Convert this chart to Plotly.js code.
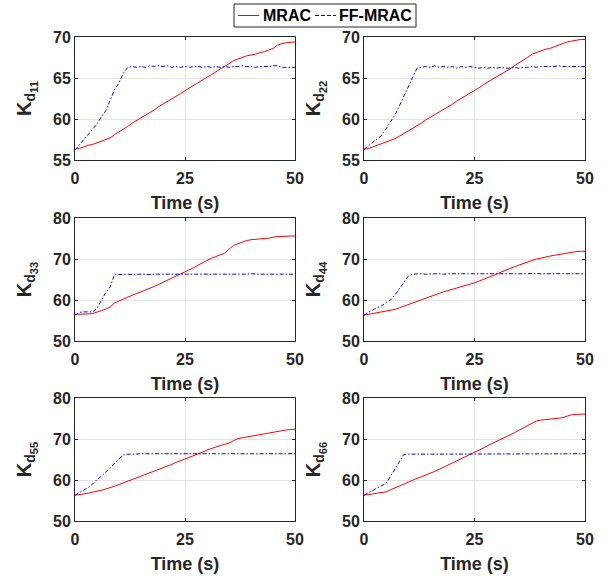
<!DOCTYPE html>
<html>
<head>
<meta charset="utf-8">
<script src="https://cdn.plot.ly/plotly-3.0.1.min.js"></script>
<style>html,body{margin:0;padding:0;background:#fff;}#chart{width:610px;height:581px;}</style>
</head>
<body>
<div id="chart"></div>
<script>
// Time samples (s)
const time = [0,1,2,3,4,5,6,7,8,9,10,11,12,13,14,15,16,17,18,19,20,21,22,23,24,25,26,27,28,29,30,31,32,33,34,35,36,37,38,39,40,41,42,43,44,45,46,47,48,49,50];

// Kd11
const mrac11 = [56.3,56.4,56.6,56.8,56.9,57.1,57.3,57.5,57.7,58.1,58.4,58.8,59.1,59.5,59.8,60.2,60.5,60.8,61.1,61.5,61.8,62.1,62.4,62.8,63.1,63.45,63.8,64.1,64.4,64.8,65.1,65.4,65.8,66.1,66.4,66.8,67.1,67.3,67.5,67.7,67.8,67.9,68.1,68.2,68.4,68.6,69.0,69.2,69.3,69.35,69.4];
const ff11   = [56.2,56.9,57.5,58.1,58.7,59.4,60.3,61.0,62.3,63.6,64.4,65.6,66.3,66.4,66.3,66.4,66.3,66.5,66.4,66.5,66.4,66.5,66.3,66.4,66.3,66.4,66.3,66.4,66.4,66.3,66.4,66.3,66.4,66.3,66.4,66.3,66.4,66.4,66.5,66.4,66.4,66.3,66.4,66.4,66.4,66.5,66.5,66.3,66.3,66.3,66.3];
// Kd22
const mrac22 = [56.3,56.4,56.6,56.8,57.0,57.2,57.4,57.6,57.9,58.2,58.5,58.9,59.2,59.5,59.9,60.2,60.5,60.9,61.2,61.5,61.8,62.2,62.5,62.8,63.2,63.5,63.8,64.2,64.5,64.8,65.2,65.5,65.8,66.1,66.5,66.8,67.1,67.5,67.9,68.1,68.3,68.5,68.6,68.8,69.0,69.2,69.4,69.5,69.6,69.7,69.7];
const ff22   = [56.3,56.7,57.2,57.6,58.0,58.8,59.7,60.5,61.6,62.8,63.9,65.0,66.2,66.3,66.4,66.3,66.5,66.3,66.4,66.3,66.4,66.2,66.4,66.3,66.4,66.3,66.2,66.3,66.2,66.3,66.2,66.3,66.2,66.2,66.3,66.2,66.3,66.3,66.4,66.3,66.4,66.4,66.4,66.4,66.5,66.4,66.4,66.4,66.4,66.4,66.4];
// Kd33
const mrac33 = [56.5,56.5,56.5,56.6,56.7,57.0,57.4,57.8,58.3,59.3,59.8,60.3,60.8,61.2,61.6,62.0,62.4,62.8,63.3,63.8,64.3,64.8,65.2,65.7,66.2,66.7,67.3,67.9,68.5,69.1,69.7,70.2,70.6,71.0,71.4,72.4,73.3,73.7,74.1,74.5,74.7,74.8,74.8,74.9,75.1,75.3,75.5,75.5,75.6,75.6,75.6];
const ff33   = [56.3,57.0,57.1,57.1,57.1,58.0,59.8,61.8,63.2,66.3,66.2,66.3,66.3,66.2,66.3,66.3,66.3,66.2,66.3,66.3,66.3,66.3,66.2,66.3,66.3,66.3,66.3,66.3,66.2,66.3,66.3,66.3,66.3,66.3,66.2,66.3,66.3,66.3,66.3,66.3,66.4,66.3,66.3,66.3,66.3,66.3,66.3,66.3,66.3,66.3,66.3];
// Kd44
const mrac44 = [56.3,56.5,56.7,56.9,57.1,57.3,57.5,57.7,58.1,58.5,58.9,59.3,59.7,60.1,60.5,60.8,61.2,61.6,62.0,62.3,62.6,63.0,63.3,63.6,63.9,64.2,64.6,65.0,65.5,65.9,66.3,66.8,67.3,67.7,68.1,68.5,68.9,69.3,69.7,70.0,70.2,70.5,70.7,70.9,71.1,71.3,71.5,71.7,71.8,71.9,71.9];
const ff44   = [56.3,57.0,57.6,58.1,58.6,59.4,60.0,61.2,62.8,64.4,65.8,66.3,66.4,66.4,66.3,66.4,66.4,66.4,66.3,66.4,66.4,66.4,66.3,66.4,66.4,66.4,66.3,66.4,66.4,66.3,66.4,66.4,66.4,66.4,66.4,66.4,66.4,66.4,66.5,66.4,66.4,66.4,66.4,66.4,66.4,66.4,66.4,66.4,66.4,66.4,66.4];
// Kd55
const mrac55 = [56.3,56.4,56.6,56.8,57.0,57.2,57.5,57.8,58.1,58.5,58.9,59.3,59.7,60.2,60.6,61.0,61.4,61.8,62.2,62.6,63.0,63.4,63.8,64.3,64.7,65.1,65.5,65.9,66.3,66.8,67.3,67.7,68.1,68.4,68.7,69.0,69.6,70.1,70.3,70.5,70.6,70.8,71.0,71.2,71.4,71.6,71.8,72.0,72.2,72.3,72.4];
const ff55   = [56.3,56.9,57.5,58.2,59.0,60.1,60.9,62.0,63.0,64.0,65.1,66.1,66.3,66.3,66.4,66.4,66.4,66.4,66.4,66.4,66.5,66.4,66.4,66.4,66.4,66.4,66.4,66.4,66.4,66.4,66.4,66.4,66.4,66.4,66.4,66.4,66.4,66.4,66.4,66.4,66.4,66.4,66.4,66.4,66.4,66.4,66.4,66.4,66.4,66.4,66.4];
// Kd66
const mrac66 = [56.3,56.4,56.6,56.8,56.9,57.1,57.6,58.1,58.6,59.1,59.5,60.0,60.4,60.8,61.2,61.7,62.1,62.6,63.1,63.6,64.1,64.6,65.1,65.7,66.2,66.7,67.2,67.8,68.4,68.9,69.3,69.8,70.3,70.9,71.5,72.1,72.7,73.2,73.8,74.4,74.6,74.7,74.8,74.9,75.0,75.2,75.6,75.9,76.0,76.1,76.1];
const ff66   = [56.3,56.9,57.5,58.0,58.6,59.2,60.9,62.7,64.5,66.2,66.3,66.3,66.3,66.4,66.4,66.4,66.4,66.4,66.4,66.4,66.4,66.4,66.4,66.4,66.4,66.4,66.4,66.4,66.4,66.4,66.4,66.4,66.4,66.4,66.4,66.4,66.4,66.4,66.4,66.4,66.4,66.4,66.4,66.4,66.4,66.4,66.4,66.4,66.4,66.4,66.4];

const seriesNames = ["MRAC", "FF-MRAC"];
const gainLabels = ["11", "22", "33", "44", "55", "66"];
const xTicks = [0, 25, 50];
const yTicksTop = [55, 60, 65, 70];
const yTicksOther = [50, 60, 70, 80];
const mracData = [mrac11, mrac22, mrac33, mrac44, mrac55, mrac66];
const ffData = [ff11, ff22, ff33, ff44, ff55, ff66];

const W = 610, H = 581;
const colX = [[75, 295], [364, 585]];
const rowY = [[37, 160], [218, 341], [398, 521]];
const FONT = "Liberation Sans, Arial, sans-serif";
const RED = "#ff0000", BLUE = "#0000ff", BLUE_DASH = "4px,2px,1.5px,2px";

const traces = [];
const px = v => v / W, py = v => 1 - v / H;
const layout = {
  width: W, height: H,
  margin: {l: 0, r: 0, t: 0, b: 0},
  paper_bgcolor: "#fff", plot_bgcolor: "#fff",
  font: {family: FONT, size: 16, color: "#262626", weight: "bold"},
  showlegend: false,
  shapes: [
    // legend box
    {type: "rect", xref: "paper", yref: "paper", x0: px(234), x1: px(416), y0: py(27), y1: py(4),
     line: {color: "#262626", width: 1}, fillcolor: "#fff", layer: "above"},
    {type: "line", xref: "paper", yref: "paper", x0: px(238), x1: px(259), y0: py(15.5), y1: py(15.5),
     line: {color: RED, width: 1}, layer: "above"},
    {type: "line", xref: "paper", yref: "paper", x0: px(315), x1: px(336), y0: py(15.5), y1: py(15.5),
     line: {color: BLUE, width: 1, dash: "4px,2px"}, layer: "above"}
  ],
  annotations: [
    {text: seriesNames[0], xref: "paper", yref: "paper", x: px(261), y: py(15.5), xanchor: "left", yanchor: "middle",
     showarrow: false, font: {family: FONT, size: 16, color: "#000", weight: "bold"}},
    {text: seriesNames[1], xref: "paper", yref: "paper", x: px(337), y: py(15.5), xanchor: "left", yanchor: "middle",
     showarrow: false, font: {family: FONT, size: 16, color: "#000", weight: "bold"}}
  ]
};

for (let i = 0; i < 6; i++) {
  const r = Math.floor(i / 2), c = i % 2;
  const n = i + 1;
  const xa = "x" + (n === 1 ? "" : n), ya = "y" + (n === 1 ? "" : n);
  traces.push({
    x: time, y: mracData[i], xaxis: xa, yaxis: ya, type: "scatter", mode: "lines",
    name: seriesNames[0], line: {color: RED, width: 1}
  });
  traces.push({
    x: time, y: ffData[i], xaxis: xa, yaxis: ya, type: "scatter", mode: "lines",
    name: seriesNames[1], line: {color: BLUE, width: 1, dash: BLUE_DASH}
  });
  const yt = r === 0 ? yTicksTop : yTicksOther;
  const common = {
    showline: true, linecolor: "#262626", linewidth: 1, mirror: "ticks",
    ticks: "inside", ticklen: 3, tickcolor: "#262626", tickwidth: 1,
    showgrid: true, gridcolor: "#e3e3e3", gridwidth: 1, zeroline: false,
    tickfont: {family: FONT, size: 16, color: "#262626", weight: "bold"},
    fixedrange: true
  };
  layout["xaxis" + (n === 1 ? "" : n)] = Object.assign({}, common, {
    domain: [px(colX[c][0]), px(colX[c][1])],
    anchor: ya, range: [0, 50], tickvals: xTicks, ticktext: xTicks.map(String),
    ticklabelstandoff: 4,
    title: {text: "Time (s)", standoff: 10, font: {family: FONT, size: 18, color: "#262626", weight: "bold"}}
  });
  layout["yaxis" + (n === 1 ? "" : n)] = Object.assign({}, common, {
    domain: [py(rowY[r][1]), py(rowY[r][0])],
    anchor: xa, range: [yt[0], yt[yt.length - 1]], tickvals: yt, ticktext: yt.map(String),
    title: {text: "K<sub>d<span style='font-size:16px'><sub>" + gainLabels[i] + "</sub></span></sub>", standoff: 16,
            font: {family: FONT, size: 20, color: "#262626", weight: "bold"}}
  });
}

Plotly.newPlot("chart", traces, layout, {staticPlot: true, displayModeBar: false});
</script>
</body>
</html>
